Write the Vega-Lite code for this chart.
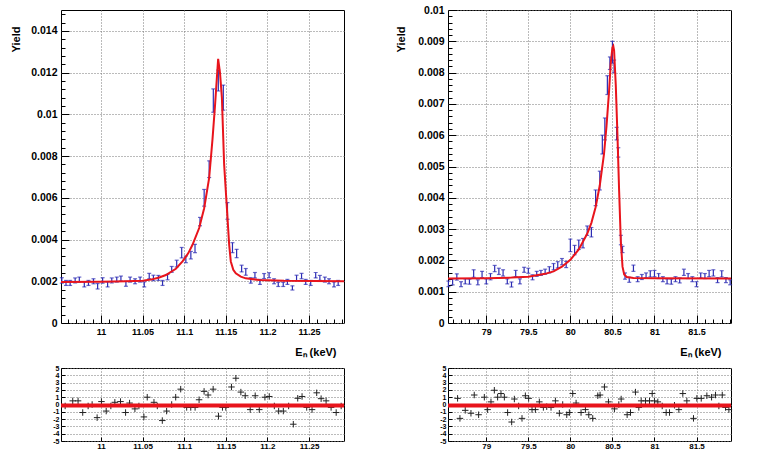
{
  "$schema": "https://vega.github.io/schema/vega-lite/v6.json",
  "padding": {"left": 9, "top": 4, "right": 5, "bottom": 5},
  "bounds": "flush",
  "columns": 2,
  "spacing": {"row": 45, "column": 104},
  "config": {
    "view": {"stroke": "black", "strokeWidth": 1},
    "font": "Liberation Sans",
    "axis": {"domain": false, "labelFont": "Liberation Sans", "labelFontWeight": "bold", "labelColor": "black", "titleFont": "Liberation Sans", "titleFontWeight": "bold", "titleColor": "black", "tickColor": "black", "gridColor": "#777777", "gridDash": [1, 2], "gridOpacity": 1, "labelFlush": false, "labelOverlap": false}
  },
  "datasets": {
    "dl": [
      {"x": 10.953, "y": 0.00204, "e": 0.00013}, {"x": 10.958, "y": 0.00192, "e": 0.00012}, {"x": 10.963, "y": 0.00192, "e": 0.00012},
      {"x": 10.969, "y": 0.00204, "e": 0.00012}, {"x": 10.974, "y": 0.00208, "e": 0.00012}, {"x": 10.980, "y": 0.00185, "e": 0.00012},
      {"x": 10.985, "y": 0.00192, "e": 0.00012}, {"x": 10.991, "y": 0.00200, "e": 0.00012}, {"x": 10.996, "y": 0.00176, "e": 0.00013},
      {"x": 11.002, "y": 0.00204, "e": 0.00013}, {"x": 11.008, "y": 0.00185, "e": 0.00012}, {"x": 11.013, "y": 0.00204, "e": 0.00012},
      {"x": 11.019, "y": 0.00208, "e": 0.00012}, {"x": 11.024, "y": 0.00213, "e": 0.00012}, {"x": 11.030, "y": 0.00188, "e": 0.00012},
      {"x": 11.035, "y": 0.00208, "e": 0.00012}, {"x": 11.041, "y": 0.00200, "e": 0.00012}, {"x": 11.047, "y": 0.00208, "e": 0.00012},
      {"x": 11.052, "y": 0.00185, "e": 0.00012}, {"x": 11.058, "y": 0.00225, "e": 0.00013}, {"x": 11.063, "y": 0.00216, "e": 0.00013},
      {"x": 11.069, "y": 0.00216, "e": 0.00012}, {"x": 11.074, "y": 0.00192, "e": 0.00012}, {"x": 11.080, "y": 0.00220, "e": 0.00013},
      {"x": 11.085, "y": 0.00257, "e": 0.00014}, {"x": 11.091, "y": 0.00285, "e": 0.00016}, {"x": 11.097, "y": 0.00337, "e": 0.00025},
      {"x": 11.102, "y": 0.00305, "e": 0.00016}, {"x": 11.108, "y": 0.00325, "e": 0.00018}, {"x": 11.113, "y": 0.00357, "e": 0.0002},
      {"x": 11.119, "y": 0.00486, "e": 0.0002}, {"x": 11.124, "y": 0.0060, "e": 0.0004}, {"x": 11.130, "y": 0.00737, "e": 0.0004},
      {"x": 11.135, "y": 0.01066, "e": 0.00056}, {"x": 11.141, "y": 0.01162, "e": 0.0005}, {"x": 11.147, "y": 0.0108, "e": 0.0006},
      {"x": 11.152, "y": 0.00537, "e": 0.0004}, {"x": 11.158, "y": 0.00361, "e": 0.00024}, {"x": 11.163, "y": 0.00333, "e": 0.0002},
      {"x": 11.169, "y": 0.00261, "e": 0.00016}, {"x": 11.174, "y": 0.00245, "e": 0.00016}, {"x": 11.180, "y": 0.00204, "e": 0.00013},
      {"x": 11.185, "y": 0.00229, "e": 0.00013}, {"x": 11.191, "y": 0.00197, "e": 0.00012}, {"x": 11.196, "y": 0.00225, "e": 0.00012},
      {"x": 11.202, "y": 0.00229, "e": 0.00012}, {"x": 11.208, "y": 0.00200, "e": 0.00012}, {"x": 11.213, "y": 0.00185, "e": 0.0001},
      {"x": 11.219, "y": 0.00185, "e": 0.0001}, {"x": 11.224, "y": 0.00197, "e": 0.00012}, {"x": 11.230, "y": 0.00168, "e": 0.0001},
      {"x": 11.235, "y": 0.00216, "e": 0.00013}, {"x": 11.241, "y": 0.00225, "e": 0.00013}, {"x": 11.246, "y": 0.00197, "e": 0.00012},
      {"x": 11.252, "y": 0.00192, "e": 0.00012}, {"x": 11.258, "y": 0.00229, "e": 0.00013}, {"x": 11.263, "y": 0.00216, "e": 0.00012},
      {"x": 11.269, "y": 0.00208, "e": 0.00012}, {"x": 11.274, "y": 0.00200, "e": 0.00012}, {"x": 11.280, "y": 0.00185, "e": 0.00012},
      {"x": 11.285, "y": 0.00192, "e": 0.00012}
    ],
    "fl": [
      {"x": 10.952, "y": 0.00197}, {"x": 11.0, "y": 0.00198}, {"x": 11.03, "y": 0.0020}, {"x": 11.05, "y": 0.00203},
      {"x": 11.06, "y": 0.00208}, {"x": 11.07, "y": 0.00218}, {"x": 11.078, "y": 0.0023}, {"x": 11.09, "y": 0.0026},
      {"x": 11.098, "y": 0.00295}, {"x": 11.105, "y": 0.00335}, {"x": 11.11, "y": 0.00375}, {"x": 11.118, "y": 0.00455},
      {"x": 11.124, "y": 0.0055}, {"x": 11.13, "y": 0.00695}, {"x": 11.134, "y": 0.0088}, {"x": 11.137, "y": 0.0104},
      {"x": 11.1408, "y": 0.01266}, {"x": 11.143, "y": 0.0120}, {"x": 11.1453, "y": 0.0108}, {"x": 11.148, "y": 0.0076},
      {"x": 11.151, "y": 0.0057}, {"x": 11.154, "y": 0.00377}, {"x": 11.156, "y": 0.00295}, {"x": 11.159, "y": 0.00255},
      {"x": 11.162, "y": 0.00238}, {"x": 11.168, "y": 0.00222}, {"x": 11.174, "y": 0.00214}, {"x": 11.19, "y": 0.00206},
      {"x": 11.22, "y": 0.00202}, {"x": 11.292, "y": 0.0020}
    ],
    "rl": [
      {"x": 10.957, "r": -0.2}, {"x": 10.9661, "r": 0.5}, {"x": 10.9725, "r": 0.5}, {"x": 10.9781, "r": -1.1}, {"x": 10.9846, "r": -0.2},
      {"x": 10.9894, "r": 0.0}, {"x": 10.9954, "r": -1.8}, {"x": 11.0006, "r": 0.4}, {"x": 11.0063, "r": -0.9}, {"x": 11.0119, "r": -0.2},
      {"x": 11.0167, "r": 0.3}, {"x": 11.0235, "r": 0.4}, {"x": 11.0296, "r": -1.1}, {"x": 11.0344, "r": 0.2}, {"x": 11.0408, "r": -0.6},
      {"x": 11.0456, "r": -0.2}, {"x": 11.0516, "r": -1.7}, {"x": 11.0556, "r": 1.0}, {"x": 11.0637, "r": 0.3}, {"x": 11.0677, "r": -0.2},
      {"x": 11.0737, "r": -2.2}, {"x": 11.0789, "r": -0.9}, {"x": 11.085, "r": 0.0}, {"x": 11.0898, "r": 1.0}, {"x": 11.0958, "r": 2.1},
      {"x": 11.103, "r": -0.4}, {"x": 11.1079, "r": -0.4}, {"x": 11.1131, "r": -0.4}, {"x": 11.1179, "r": 0.65}, {"x": 11.1239, "r": 1.8},
      {"x": 11.1287, "r": 1.3}, {"x": 11.1348, "r": 2.1}, {"x": 11.1412, "r": -1.6}, {"x": 11.146, "r": -0.4}, {"x": 11.15, "r": -0.4},
      {"x": 11.1568, "r": 2.4}, {"x": 11.1621, "r": 3.6}, {"x": 11.1681, "r": 1.7}, {"x": 11.1733, "r": 1.2}, {"x": 11.1793, "r": -0.7},
      {"x": 11.1853, "r": 1.2}, {"x": 11.1902, "r": -0.7}, {"x": 11.197, "r": 1.0}, {"x": 11.2022, "r": 1.1}, {"x": 11.2083, "r": -0.2},
      {"x": 11.2135, "r": -0.9}, {"x": 11.2191, "r": -0.9}, {"x": 11.2255, "r": -0.2}, {"x": 11.2311, "r": -2.7}, {"x": 11.2364, "r": 0.85},
      {"x": 11.2416, "r": 1.1}, {"x": 11.2472, "r": -0.4}, {"x": 11.2536, "r": -0.7}, {"x": 11.2592, "r": 1.6}, {"x": 11.2645, "r": 0.8},
      {"x": 11.2705, "r": 0.5}, {"x": 11.2765, "r": -0.4}, {"x": 11.2826, "r": -1.1}, {"x": 11.2886, "r": -0.2}
    ],
    "dr": [
      {"x": 78.55, "y": 0.00125, "e": 0.00009}, {"x": 78.60, "y": 0.00132, "e": 0.0001}, {"x": 78.65, "y": 0.00147, "e": 0.0001},
      {"x": 78.70, "y": 0.00124, "e": 0.00008}, {"x": 78.75, "y": 0.00133, "e": 0.00008}, {"x": 78.80, "y": 0.00132, "e": 0.00008},
      {"x": 78.85, "y": 0.00158, "e": 0.00012}, {"x": 78.90, "y": 0.0013, "e": 0.00008}, {"x": 78.95, "y": 0.00155, "e": 0.0001},
      {"x": 79.00, "y": 0.00133, "e": 0.00008}, {"x": 79.05, "y": 0.00148, "e": 0.0001}, {"x": 79.10, "y": 0.00174, "e": 0.0001},
      {"x": 79.15, "y": 0.00165, "e": 0.0001}, {"x": 79.20, "y": 0.0016, "e": 0.0001}, {"x": 79.25, "y": 0.00133, "e": 0.00008},
      {"x": 79.30, "y": 0.00123, "e": 0.00008}, {"x": 79.35, "y": 0.00158, "e": 0.0001}, {"x": 79.40, "y": 0.00133, "e": 0.00008},
      {"x": 79.45, "y": 0.0017, "e": 0.00008}, {"x": 79.50, "y": 0.00167, "e": 0.00008}, {"x": 79.55, "y": 0.00146, "e": 0.00008},
      {"x": 79.60, "y": 0.00157, "e": 0.00008}, {"x": 79.65, "y": 0.0016, "e": 0.00008}, {"x": 79.70, "y": 0.00164, "e": 0.00008},
      {"x": 79.75, "y": 0.0017, "e": 0.0001}, {"x": 79.80, "y": 0.0018, "e": 0.0001}, {"x": 79.85, "y": 0.00186, "e": 0.0001},
      {"x": 79.90, "y": 0.00196, "e": 0.0001}, {"x": 79.95, "y": 0.00187, "e": 0.0001}, {"x": 80.00, "y": 0.00248, "e": 0.0002},
      {"x": 80.05, "y": 0.00233, "e": 0.00015}, {"x": 80.10, "y": 0.0025, "e": 0.00015}, {"x": 80.15, "y": 0.00255, "e": 0.00015},
      {"x": 80.20, "y": 0.00295, "e": 0.00015}, {"x": 80.25, "y": 0.0029, "e": 0.00015}, {"x": 80.30, "y": 0.004, "e": 0.00025},
      {"x": 80.35, "y": 0.00455, "e": 0.0003}, {"x": 80.38, "y": 0.0057, "e": 0.0003}, {"x": 80.41, "y": 0.0062, "e": 0.00035},
      {"x": 80.44, "y": 0.0076, "e": 0.0003}, {"x": 80.47, "y": 0.0083, "e": 0.0002}, {"x": 80.50, "y": 0.00865, "e": 0.00035},
      {"x": 80.52, "y": 0.0082, "e": 0.0002}, {"x": 80.55, "y": 0.00605, "e": 0.0002}, {"x": 80.57, "y": 0.00545, "e": 0.00015},
      {"x": 80.60, "y": 0.00265, "e": 0.00015}, {"x": 80.62, "y": 0.00235, "e": 0.0001}, {"x": 80.65, "y": 0.0015, "e": 0.0001},
      {"x": 80.70, "y": 0.00138, "e": 0.00008}, {"x": 80.75, "y": 0.00175, "e": 0.0001}, {"x": 80.80, "y": 0.0014, "e": 0.00008},
      {"x": 80.85, "y": 0.00147, "e": 0.00008}, {"x": 80.90, "y": 0.00152, "e": 0.00008}, {"x": 80.95, "y": 0.00157, "e": 0.0001},
      {"x": 81.00, "y": 0.00158, "e": 0.0001}, {"x": 81.05, "y": 0.0015, "e": 0.00008}, {"x": 81.10, "y": 0.0014, "e": 0.00008},
      {"x": 81.15, "y": 0.00133, "e": 0.00008}, {"x": 81.20, "y": 0.00132, "e": 0.00008}, {"x": 81.25, "y": 0.0014, "e": 0.00008},
      {"x": 81.30, "y": 0.00136, "e": 0.00008}, {"x": 81.35, "y": 0.00162, "e": 0.0001}, {"x": 81.40, "y": 0.0015, "e": 0.00008},
      {"x": 81.45, "y": 0.0014, "e": 0.00008}, {"x": 81.50, "y": 0.00124, "e": 0.00008}, {"x": 81.55, "y": 0.00152, "e": 0.00008},
      {"x": 81.60, "y": 0.0015, "e": 0.00008}, {"x": 81.65, "y": 0.00158, "e": 0.0001}, {"x": 81.70, "y": 0.0016, "e": 0.0001},
      {"x": 81.75, "y": 0.00137, "e": 0.00008}, {"x": 81.80, "y": 0.00157, "e": 0.0001}, {"x": 81.85, "y": 0.00137, "e": 0.00008},
      {"x": 81.90, "y": 0.0013, "e": 0.00008}
    ],
    "fr": [
      {"x": 78.545, "y": 0.00142}, {"x": 79.0, "y": 0.00143}, {"x": 79.3, "y": 0.00145}, {"x": 79.5, "y": 0.00148},
      {"x": 79.7, "y": 0.00157}, {"x": 79.8, "y": 0.00165}, {"x": 79.9, "y": 0.0018}, {"x": 80.0, "y": 0.00202},
      {"x": 80.1, "y": 0.00235}, {"x": 80.2, "y": 0.00285}, {"x": 80.25, "y": 0.0032}, {"x": 80.3, "y": 0.0037},
      {"x": 80.35, "y": 0.0044}, {"x": 80.4, "y": 0.0054}, {"x": 80.43, "y": 0.0063}, {"x": 80.46, "y": 0.0074},
      {"x": 80.48, "y": 0.0083}, {"x": 80.5, "y": 0.0088}, {"x": 80.51, "y": 0.00885}, {"x": 80.52, "y": 0.0087},
      {"x": 80.54, "y": 0.0076}, {"x": 80.56, "y": 0.006}, {"x": 80.58, "y": 0.0042}, {"x": 80.6, "y": 0.0026},
      {"x": 80.62, "y": 0.0018}, {"x": 80.64, "y": 0.00155}, {"x": 80.67, "y": 0.00147}, {"x": 80.75, "y": 0.00144},
      {"x": 81.0, "y": 0.00143}, {"x": 81.91, "y": 0.00142}
    ],
    "rr": [
      {"x": 78.659, "r": 0.84}, {"x": 78.687, "r": -1.9}, {"x": 78.75, "r": -0.8}, {"x": 78.818, "r": -1.2}, {"x": 78.857, "r": 1.3},
      {"x": 78.909, "r": -1.4}, {"x": 78.977, "r": 1.0}, {"x": 79.016, "r": -0.7}, {"x": 79.056, "r": 0.36}, {"x": 79.096, "r": 1.95},
      {"x": 79.135, "r": 1.0}, {"x": 79.175, "r": 1.5}, {"x": 79.215, "r": 1.0}, {"x": 79.254, "r": -1.1}, {"x": 79.302, "r": -2.4},
      {"x": 79.334, "r": 0.75}, {"x": 79.385, "r": -0.2}, {"x": 79.425, "r": -1.9}, {"x": 79.465, "r": 1.2}, {"x": 79.504, "r": 0.84},
      {"x": 79.544, "r": -0.7}, {"x": 79.584, "r": -0.7}, {"x": 79.631, "r": 0.36}, {"x": 79.679, "r": -0.4}, {"x": 79.719, "r": -0.3},
      {"x": 79.77, "r": -0.4}, {"x": 79.822, "r": 0.5}, {"x": 79.869, "r": -1.2}, {"x": 79.909, "r": 0.0}, {"x": 79.957, "r": -1.4},
      {"x": 79.988, "r": -1.1}, {"x": 80.028, "r": 1.5}, {"x": 80.068, "r": 0.2}, {"x": 80.127, "r": -1.1}, {"x": 80.179, "r": -0.7},
      {"x": 80.219, "r": -1.4}, {"x": 80.266, "r": -1.9}, {"x": 80.326, "r": 1.2}, {"x": 80.353, "r": 1.3}, {"x": 80.405, "r": 2.4},
      {"x": 80.453, "r": 0.36}, {"x": 80.524, "r": -0.6}, {"x": 80.576, "r": 0.0}, {"x": 80.604, "r": 0.75}, {"x": 80.675, "r": -1.4},
      {"x": 80.715, "r": -1.1}, {"x": 80.774, "r": 1.7}, {"x": 80.814, "r": -0.4}, {"x": 80.842, "r": 0.5}, {"x": 80.893, "r": 0.5},
      {"x": 80.941, "r": 0.5}, {"x": 80.973, "r": 1.5}, {"x": 81.0, "r": 0.5}, {"x": 81.04, "r": 0.36}, {"x": 81.092, "r": -0.2},
      {"x": 81.139, "r": -1.1}, {"x": 81.179, "r": -1.1}, {"x": 81.238, "r": -0.1}, {"x": 81.29, "r": -0.7}, {"x": 81.337, "r": 1.5},
      {"x": 81.385, "r": 0.5}, {"x": 81.464, "r": -1.9}, {"x": 81.504, "r": 0.84}, {"x": 81.556, "r": 0.84}, {"x": 81.623, "r": 1.2},
      {"x": 81.679, "r": 1.0}, {"x": 81.726, "r": 1.3}, {"x": 81.766, "r": -0.2}, {"x": 81.806, "r": 1.3}, {"x": 81.845, "r": -0.4},
      {"x": 81.885, "r": -0.7}
    ],
    "z": [{"r": -0.15}]
  },
  "concat": [
    {
      "width": 283, "height": 313,
      "resolve": {"axis": {"x": "independent", "y": "independent"}},
      "layer": [
        {
          "data": {"name": "dl"},
          "mark": {"type": "errorbar", "color": "#2c2cb4", "thickness": 1.2, "ticks": {"size": 4, "color": "#2c2cb4", "thickness": 1.2}},
          "encoding": {
            "x": {"field": "x", "type": "quantitative", "scale": {"domain": [10.952, 11.292], "nice": false, "zero": false},
              "axis": {"orient": "bottom", "values": [10.96, 10.97, 10.98, 10.99, 11.01, 11.02, 11.03, 11.04, 11.06, 11.07, 11.08, 11.09, 11.11, 11.12, 11.13, 11.14, 11.16, 11.17, 11.18, 11.19, 11.21, 11.22, 11.23, 11.24, 11.26, 11.27, 11.28, 11.29], "labels": false, "grid": false, "tickSize": -4, "title": null}},
            "y": {"field": "y", "type": "quantitative", "scale": {"domain": [0, 0.015], "nice": false},
              "axis": {"orient": "left", "values": [0.0004, 0.0008, 0.0012, 0.0016, 0.0024, 0.0028, 0.0032, 0.0036, 0.0044, 0.0048, 0.0052, 0.0056, 0.0064, 0.0068, 0.0072, 0.0076, 0.0084, 0.0088, 0.0092, 0.0096, 0.0104, 0.0108, 0.0112, 0.0116, 0.0124, 0.0128, 0.0132, 0.0136, 0.0144, 0.0148], "labels": false, "grid": false, "tickSize": -4, "title": null}},
            "yError": {"field": "e"}
          }
        },
        {
          "data": {"name": "fl"},
          "mark": {"type": "line", "color": "#e8141c", "strokeWidth": 2},
          "encoding": {
            "x": {"field": "x", "type": "quantitative",
              "axis": {"orient": "bottom", "values": [11, 11.05, 11.1, 11.15, 11.2, 11.25], "format": ".2~f", "grid": true, "tickSize": -8, "labelPadding": 12, "labelFontSize": 9, "title": "Eₙ (keV)", "titleFontSize": 11, "titleAlign": "right", "titleBaseline": "top", "titleX": 275, "titleY": 23}},
            "y": {"field": "y", "type": "quantitative",
              "axis": {"orient": "left", "values": [0, 0.002, 0.004, 0.006, 0.008, 0.01, 0.012, 0.014], "format": ".3~f", "grid": true, "tickSize": -8, "labelPadding": 12, "labelFontSize": 10.5, "title": "Yield", "titleFontSize": 11, "titleAngle": -90, "titleAlign": "right", "titleBaseline": "bottom", "titleX": -40, "titleY": 16}}
          }
        }
      ]
    },
    {
      "width": 283, "height": 313,
      "resolve": {"axis": {"x": "independent", "y": "independent"}},
      "layer": [
        {
          "data": {"name": "dr"},
          "mark": {"type": "errorbar", "color": "#2c2cb4", "thickness": 1.2, "ticks": {"size": 4, "color": "#2c2cb4", "thickness": 1.2}},
          "encoding": {
            "x": {"field": "x", "type": "quantitative", "scale": {"domain": [78.545, 81.91], "nice": false, "zero": false},
              "axis": {"orient": "bottom", "values": [78.6, 78.7, 78.8, 78.9, 79.1, 79.2, 79.3, 79.4, 79.6, 79.7, 79.8, 79.9, 80.1, 80.2, 80.3, 80.4, 80.6, 80.7, 80.8, 80.9, 81.1, 81.2, 81.3, 81.4, 81.6, 81.7, 81.8, 81.9], "labels": false, "grid": false, "tickSize": -4, "title": null}},
            "y": {"field": "y", "type": "quantitative", "scale": {"domain": [0, 0.01], "nice": false},
              "axis": {"orient": "left", "values": [0.0002, 0.0004, 0.0006, 0.0008, 0.0012, 0.0014, 0.0016, 0.0018, 0.0022, 0.0024, 0.0026, 0.0028, 0.0032, 0.0034, 0.0036, 0.0038, 0.0042, 0.0044, 0.0046, 0.0048, 0.0052, 0.0054, 0.0056, 0.0058, 0.0062, 0.0064, 0.0066, 0.0068, 0.0072, 0.0074, 0.0076, 0.0078, 0.0082, 0.0084, 0.0086, 0.0088, 0.0092, 0.0094, 0.0096, 0.0098], "labels": false, "grid": false, "tickSize": -4, "title": null}},
            "yError": {"field": "e"}
          }
        },
        {
          "data": {"name": "fr"},
          "mark": {"type": "line", "color": "#e8141c", "strokeWidth": 2},
          "encoding": {
            "x": {"field": "x", "type": "quantitative",
              "axis": {"orient": "bottom", "values": [79, 79.5, 80, 80.5, 81, 81.5], "format": ".1~f", "grid": true, "tickSize": -8, "labelPadding": 12, "labelFontSize": 9, "title": "Eₙ (keV)", "titleFontSize": 11, "titleAlign": "right", "titleBaseline": "top", "titleX": 273, "titleY": 23}},
            "y": {"field": "y", "type": "quantitative",
              "axis": {"orient": "left", "values": [0, 0.001, 0.002, 0.003, 0.004, 0.005, 0.006, 0.007, 0.008, 0.009, 0.01], "format": ".3~f", "grid": true, "tickSize": -8, "labelPadding": 12, "labelFontSize": 10.5, "title": "Yield", "titleFontSize": 11, "titleAngle": -90, "titleAlign": "right", "titleBaseline": "bottom", "titleX": -42, "titleY": 16}}
          }
        }
      ]
    },
    {
      "width": 283, "height": 73,
      "resolve": {"axis": {"x": "independent", "y": "independent"}},
      "layer": [
        {
          "data": {"name": "rl"},
          "mark": {"type": "point", "shape": "M-1,0L1,0M0,-1L0,1", "size": 42, "color": "#222222", "filled": false, "strokeWidth": 1, "opacity": 1},
          "encoding": {
            "x": {"field": "x", "type": "quantitative", "scale": {"domain": [10.952, 11.292], "nice": false, "zero": false},
              "axis": {"orient": "bottom", "values": [11, 11.05, 11.1, 11.15, 11.2, 11.25], "format": ".2~f", "grid": true, "tickSize": -4, "labelPadding": 5, "labelFontSize": 8, "title": null}},
            "y": {"field": "r", "type": "quantitative", "scale": {"domain": [-5, 5], "nice": false},
              "axis": {"orient": "left", "values": [-5, -4, -3, -2, -1, 0, 1, 2, 3, 4, 5], "labelExpr": "'' + datum.value", "grid": true, "tickSize": -4, "labelPadding": 6, "labelFontSize": 7, "labelOverlap": false, "title": null}}
          }
        },
        {
          "data": {"name": "z"},
          "mark": {"type": "rule", "color": "#e8141c", "strokeWidth": 4},
          "encoding": {"y": {"field": "r", "type": "quantitative", "axis": null}}
        }
      ]
    },
    {
      "width": 283, "height": 73,
      "resolve": {"axis": {"x": "independent", "y": "independent"}},
      "layer": [
        {
          "data": {"name": "rr"},
          "mark": {"type": "point", "shape": "M-1,0L1,0M0,-1L0,1", "size": 42, "color": "#222222", "filled": false, "strokeWidth": 1, "opacity": 1},
          "encoding": {
            "x": {"field": "x", "type": "quantitative", "scale": {"domain": [78.545, 81.91], "nice": false, "zero": false},
              "axis": {"orient": "bottom", "values": [79, 79.5, 80, 80.5, 81, 81.5], "format": ".1~f", "grid": true, "tickSize": -4, "labelPadding": 5, "labelFontSize": 8, "title": null}},
            "y": {"field": "r", "type": "quantitative", "scale": {"domain": [-5, 5], "nice": false},
              "axis": {"orient": "left", "values": [-5, -4, -3, -2, -1, 0, 1, 2, 3, 4, 5], "labelExpr": "'' + datum.value", "grid": true, "tickSize": -4, "labelPadding": 6, "labelFontSize": 7, "labelOverlap": false, "title": null}}
          }
        },
        {
          "data": {"name": "z"},
          "mark": {"type": "rule", "color": "#e8141c", "strokeWidth": 4},
          "encoding": {"y": {"field": "r", "type": "quantitative", "axis": null}}
        }
      ]
    }
  ]
}
